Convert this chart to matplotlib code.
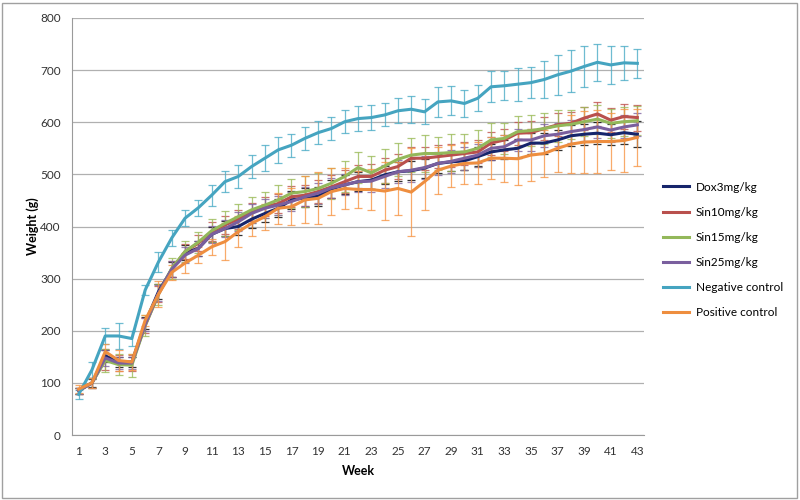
import matplotlib
matplotlib.use("Agg")
import matplotlib.pyplot as plt
from matplotlib.patches import Rectangle
import numpy as np

weeks = list(range(1, 44))

dox3 = [85, 100, 152, 140, 140, 215, 275, 318, 350, 358, 385, 396, 400, 414, 425, 435, 451, 455, 458, 472,
        480, 486, 489, 499, 505, 507, 512, 521, 524, 526, 534, 543, 547, 550, 560, 560, 566, 574, 577, 579,
        576, 580, 577]
sin10 = [85, 100, 145, 138, 138, 210, 270, 318, 352, 368, 390, 403, 414, 428, 438, 444, 457, 460, 467, 476,
         486, 496, 496, 508, 515, 531, 531, 534, 537, 540, 543, 560, 566, 579, 580, 588, 595, 598, 608, 616,
         604, 611, 609]
sin15 = [85, 100, 143, 135, 134, 210, 270, 320, 352, 370, 392, 406, 419, 432, 441, 451, 464, 467, 473, 483,
         496, 513, 503, 516, 529, 537, 540, 540, 542, 543, 550, 566, 569, 582, 584, 588, 593, 596, 601, 606,
         598, 601, 603]
sin25 = [85, 100, 148, 138, 138, 212, 272, 318, 345, 358, 385, 396, 409, 425, 435, 441, 448, 457, 464, 474,
         480, 486, 487, 496, 505, 508, 513, 521, 525, 531, 537, 550, 553, 566, 566, 574, 577, 582, 586, 591,
         585, 591, 595]
negative = [78, 125, 190, 190, 185, 278, 332, 378, 416, 436, 460, 486, 496, 515, 531, 547, 556, 569, 580, 588,
            601, 607, 609, 614, 622, 625, 620, 639, 641, 636, 646, 668, 670, 673, 676, 682, 691, 698, 707, 715,
            710, 714, 713]
positive = [88, 100, 160, 143, 140, 220, 270, 312, 330, 345, 361, 371, 390, 406, 419, 435, 438, 451, 454, 467,
            473, 471, 471, 468, 473, 466, 486, 508, 516, 521, 522, 531, 531, 530, 537, 540, 550, 558, 562, 563,
            563, 565, 571]

err_dox3 = [6, 8, 12, 10, 10, 12, 15, 14, 14, 14, 15, 15, 16, 16, 16, 17, 17, 18, 18, 18,
            18, 18, 18, 18, 18, 18, 18, 18, 18, 18, 18, 16, 18, 18, 20, 20, 20, 20, 20, 21,
            20, 22, 25]
err_sin10 = [6, 10, 20, 15, 15, 15, 15, 15, 15, 15, 18, 18, 18, 18, 18, 18, 20, 20, 22, 22,
             22, 22, 24, 24, 24, 22, 22, 22, 22, 22, 22, 22, 22, 22, 22, 22, 22, 22, 22, 23,
             23, 24, 25]
err_sin15 = [6, 10, 22, 20, 22, 20, 20, 20, 20, 20, 22, 24, 25, 25, 25, 28, 28, 30, 30, 30,
             30, 30, 32, 32, 32, 32, 35, 32, 35, 35, 35, 32, 30, 30, 30, 30, 30, 28, 28, 28,
             28, 28, 28]
err_sin25 = [6, 10, 15, 12, 12, 12, 15, 15, 15, 15, 16, 16, 18, 18, 18, 18, 18, 18, 20, 20,
             20, 20, 20, 22, 22, 22, 22, 22, 22, 22, 22, 22, 22, 22, 22, 22, 22, 22, 22, 22,
             22, 22, 22]
err_negative = [8, 15, 15, 25, 15, 10, 20, 15, 15, 15, 20, 20, 22, 22, 25, 25, 22, 22, 22, 22,
                22, 24, 24, 22, 24, 26, 24, 28, 28, 25, 25, 30, 28, 32, 30, 35, 38, 40, 40, 36,
                36, 32, 28]
err_positive = [8, 10, 15, 20, 15, 10, 25, 15, 20, 15, 15, 35, 30, 25, 25, 30, 35, 45, 50, 45,
                40, 35, 40, 55, 50, 85, 55, 45, 40, 40, 40, 40, 45, 50, 50, 45, 45, 55, 60, 60,
                55, 60, 55]

labels = ["Dox3mg/kg", "Sin10mg/kg", "Sin15mg/kg", "Sin25mg/kg", "Negative control", "Positive control"]
series = [dox3, sin10, sin15, sin25, negative, positive]
errors = [err_dox3, err_sin10, err_sin15, err_sin25, err_negative, err_positive]
colors = ["#16256B", "#B9504D", "#93B85A", "#7A5F9E", "#45A4C0", "#EE8E3F"]
ecolors = ["#000000", "#C0504D", "#9BBB59", "#8064A2", "#4BACC6", "#F79646"]

plt.rcParams['font.family'] = ['Lato', 'DejaVu Sans']

fig = plt.figure(figsize=(8, 5), dpi=100)
ax = fig.add_axes([0.09, 0.13, 0.715, 0.834])

for y, e, c, ec in zip(series, errors, colors, ecolors):
    ax.errorbar(weeks, y, yerr=e, fmt='none', ecolor=ec, elinewidth=0.9, capsize=3,
                capthick=0.9, alpha=0.8, zorder=2)
handles = []
for y, c, lab in zip(series, colors, labels):
    h, = ax.plot(weeks, y, color=c, lw=2.2, label=lab, zorder=3)
    handles.append(h)

ax.set_xlim(0.5, 43.5)
ax.set_ylim(0, 800)
ax.set_yticks(np.arange(0, 801, 100))
ax.set_xticks(weeks[::2])
ax.grid(axis='y', color='#B0B0B0', lw=0.9)
ax.set_axisbelow(True)
for s in ['top', 'right']:
    ax.spines[s].set_visible(False)
ax.spines['left'].set_color('#9A9A9A')
ax.spines['bottom'].set_color('#9A9A9A')
ax.tick_params(length=0, labelsize=8.5, colors='#333333', pad=8)
ax.set_xlabel("Week", fontsize=9, fontweight='bold', labelpad=6)
ax.set_ylabel("Weight (g)", fontsize=9, fontweight='bold', labelpad=1)

leg = fig.legend(handles=handles, labels=labels, loc='upper left', bbox_to_anchor=(0.815, 0.658),
                 frameon=False, fontsize=8.5, handlelength=2.2, labelspacing=1.2, handletextpad=0.6)

fig.patches.append(Rectangle((0.003, 0.005), 0.993, 0.99, transform=fig.transFigure,
                             fill=False, edgecolor='#A0A0A0', lw=1.0))

fig.savefig("out.png", dpi=100)
